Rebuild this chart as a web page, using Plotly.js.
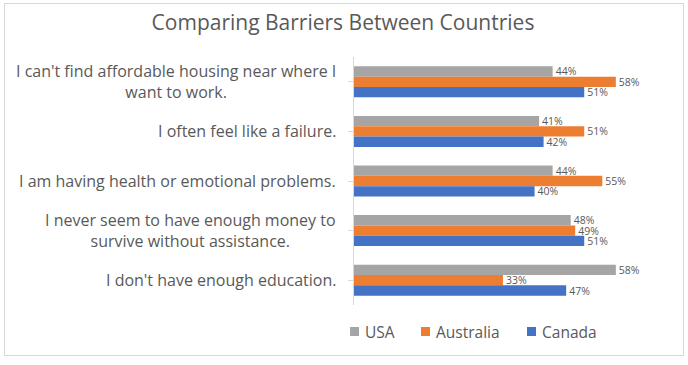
<!DOCTYPE html>
<html>
<head>
<meta charset="utf-8">
<script src="https://cdn.plot.ly/plotly-3.0.1.min.js"></script>
<style>
  html, body { margin: 0; padding: 0; background: #ffffff; }
  #wrap { position: relative; width: 688px; height: 365px; }
  #chart { position: absolute; left: 0; top: 0; width: 688px; height: 365px; }
  #frame { position: absolute; left: 4px; top: 3px; width: 678px; height: 351px; border: 1px solid #d9d9d9; pointer-events: none; }
</style>
</head>
<body>
<div id="wrap">
  <div id="chart"></div>
  <div id="frame"></div>
</div>
<script>
const categories = [
  "I can't find affordable housing near where I<br>want to work.",
  "I often feel like a failure.",
  "I am having health or emotional problems.",
  "I never seem to have enough money to<br>survive without assistance.",
  "I don't have enough education."
];
const seriesNames = ["USA", "Australia", "Canada"];
const usa = [44, 41, 44, 48, 58];
const australia = [58, 51, 55, 49, 33];
const canada = [51, 42, 40, 51, 47];
const seriesValues = [usa, australia, canada];
const colors = ["#a5a5a5", "#ed7d31", "#4472c4"];
const legendX = [350, 421, 527];

const FONT = '"Open Sans", sans-serif';
const catIdx = categories.map((c, i) => i);

const traces = seriesValues.map((vals, k) => ({
  type: 'bar',
  orientation: 'h',
  name: seriesNames[k],
  x: vals,
  y: catIdx,
  marker: { color: colors[k] },
  text: vals.map(v => v + '%'),
  textposition: 'outside',
  textfont: { family: FONT, size: 10.5, color: '#595959' },
  cliponaxis: false,
  constraintext: 'none',
  showlegend: false,
  hoverinfo: 'skip'
}));

const annotations = categories.map((c, i) => ({
  text: c,
  xref: 'paper', yref: 'y',
  x: 0, y: i,
  xanchor: 'right', yanchor: 'middle',
  xshift: -16,
  align: 'center',
  showarrow: false,
  font: { family: FONT, size: 16, color: '#595959' }
}));

// legend built from the series names
const plotL = 354, plotW = 316, plotT = 57, plotH = 248;
const px2x = p => (p - plotL) / plotW;
const px2y = p => (plotT + plotH - p) / plotH;
const shapes = [];
seriesNames.forEach((n, k) => {
  shapes.push({
    type: 'rect', xref: 'paper', yref: 'paper',
    x0: px2x(legendX[k]), x1: px2x(legendX[k] + 9),
    y0: px2y(336), y1: px2y(327),
    fillcolor: colors[k], line: { width: 0 }
  });
  annotations.push({
    text: n,
    xref: 'paper', yref: 'paper',
    x: px2x(legendX[k] + 13),
    y: px2y(332),
    xanchor: 'left', yanchor: 'middle',
    showarrow: false,
    font: { family: FONT, size: 15.5, color: '#595959' }
  });
});

const layout = {
  width: 688, height: 365,
  margin: { l: 354, r: 18, t: 57, b: 60, pad: 0 },
  paper_bgcolor: 'rgba(0,0,0,0)',
  plot_bgcolor: 'rgba(0,0,0,0)',
  title: {
    text: 'Comparing Barriers Between Countries',
    font: { family: FONT, size: 21, color: '#595959' },
    x: 343 / 688, xanchor: 'center',
    y: 1 - 23 / 365, yanchor: 'middle', yref: 'container'
  },
  barmode: 'group',
  bargap: 0.375,
  bargroupgap: 0,
  xaxis: {
    range: [0, 70],
    showgrid: false, zeroline: false, showline: false,
    showticklabels: false, ticks: '', fixedrange: true
  },
  yaxis: {
    autorange: 'reversed',
    tickmode: 'array', tickvals: catIdx,
    showticklabels: false,
    tickson: 'boundaries',
    ticks: 'outside', ticklen: 5, tickcolor: '#d9d9d9',
    showline: true, linecolor: '#d9d9d9', linewidth: 1,
    showgrid: false, zeroline: false, fixedrange: true
  },
  showlegend: false,
  shapes: shapes,
  annotations: annotations
};

Plotly.newPlot('chart', traces, layout, { displayModeBar: false, staticPlot: true });
</script>
</body>
</html>
